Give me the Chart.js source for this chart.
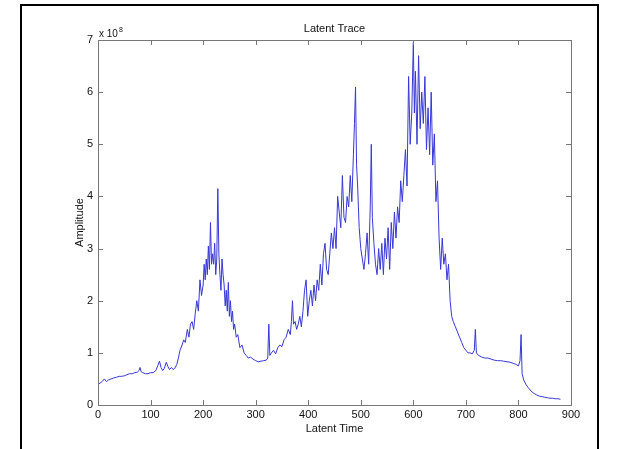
<!DOCTYPE html>
<html><head><meta charset="utf-8">
<script src="https://cdn.jsdelivr.net/npm/chart.js@4"></script>
<style>
html,body{margin:0;padding:0;background:#fff;overflow:hidden}
#wrap{position:relative;width:618px;height:449px}
#frame{position:absolute;left:20px;top:4px;width:579px;height:500px;border:2px solid #000;box-sizing:border-box}
canvas{position:absolute;left:0;top:0}
</style></head><body>
<div id="wrap"><div id="frame"></div><canvas id="c" width="618" height="449"></canvas></div>
<script>
const chartTitle = "Latent Trace";
const xAxisLabel = "Latent Time";
const yAxisLabel = "Amplitude";
const xTicks = [0,100,200,300,400,500,600,700,800,900];
const yTicks = [0,1,2,3,4,5,6,7];
const times = [0,4,8,12,16,20,25,30,35,40,45,50,55,60,65,70,75,78,80,82,85,90,95,100,105,110,114,117,120,123,126,130,133,136,140,143,146,150,153,156,160,163,166,170,173,176,179,182,185,188,191,194,197,200,202,204,206,208,210,212,214,216,218,220,222,224,226,228,230,232,234,236,238,240,242,244,246,248,250,252,254,256,258,260,263,266,270,274,278,282,286,290,295,300,305,310,315,320,323,325,327,330,334,338,342,346,350,354,358,362,366,368,370,372,375,378,381,384,387,390,393,396,399,402,405,408,411,414,417,420,423,426,429,432,435,438,441,444,447,450,453,456,459,462,465,468,471,474,477,480,483,486,488,490,492,494,497,500,503,506,509,512,515,518,520,522,525,528,531,534,537,540,543,546,549,552,555,558,561,564,567,570,573,576,579,582,585,588,591,594,597,600,602,604,607,610,613,616,619,622,625,628,631,634,637,640,643,646,649,652,655,658,661,664,667,670,673,676,680,684,688,692,696,700,704,708,712,716,718,720,724,730,736,742,748,754,760,766,772,778,784,790,795,800,803,805,807,810,814,818,822,826,830,835,840,845,850,855,860,865,870,875,880];
const amplitude = [0.40,0.42,0.45,0.50,0.45,0.48,0.50,0.52,0.53,0.55,0.55,0.56,0.58,0.60,0.60,0.62,0.63,0.66,0.72,0.64,0.62,0.60,0.60,0.62,0.62,0.66,0.76,0.84,0.72,0.66,0.70,0.82,0.74,0.68,0.72,0.68,0.70,0.78,0.90,1.05,1.15,1.25,1.20,1.45,1.30,1.55,1.60,1.45,1.75,2.00,1.80,2.40,2.10,2.30,2.70,2.40,2.80,2.50,3.05,2.60,3.50,2.70,2.90,2.70,3.10,2.50,2.80,4.15,2.90,2.50,2.20,2.80,2.50,2.30,1.90,2.20,1.80,2.35,1.70,2.00,1.60,1.80,1.45,1.55,1.30,1.35,1.10,1.15,1.00,0.95,0.90,0.92,0.88,0.85,0.83,0.84,0.85,0.86,0.90,1.55,0.95,1.00,1.05,0.98,1.10,1.15,1.12,1.25,1.30,1.45,1.35,1.60,2.00,1.55,1.60,1.45,1.55,1.70,1.50,1.80,2.20,2.40,1.70,2.00,2.20,1.90,2.30,2.00,2.40,2.20,2.70,2.30,2.90,3.10,2.60,2.50,2.90,3.30,3.00,3.40,3.00,4.00,3.70,3.40,4.40,3.60,3.50,4.00,3.80,4.40,3.90,4.80,5.40,6.10,4.60,4.20,3.40,3.00,2.80,2.60,2.90,3.30,2.70,3.80,5.00,3.60,3.10,2.70,2.50,3.00,2.60,3.10,2.50,3.20,2.80,3.40,2.60,3.50,3.00,3.70,3.20,3.80,3.50,4.30,3.90,4.40,4.90,4.20,6.30,5.00,5.60,6.95,5.60,6.40,5.00,6.70,5.30,6.00,5.40,6.30,4.90,5.70,4.80,6.00,4.60,5.20,3.90,4.30,3.20,2.60,3.20,2.70,2.90,2.40,2.70,2.00,1.70,1.60,1.50,1.40,1.30,1.20,1.10,1.05,1.00,1.00,0.98,1.05,1.45,1.00,0.95,0.92,0.90,0.90,0.88,0.86,0.85,0.85,0.84,0.83,0.82,0.80,0.78,0.75,0.85,1.35,0.60,0.48,0.40,0.34,0.29,0.25,0.22,0.19,0.17,0.16,0.15,0.14,0.13,0.13,0.12,0.12,0.11];

const points = times.map((t,i)=>({x:t,y:amplitude[i]}));
const FONT = "'Liberation Sans', Arial, sans-serif";

const decor = {
  id:'decor',
  afterDraw(chart){
    const {ctx, chartArea:a, scales:{x,y}} = chart;
    ctx.save();
    ctx.strokeStyle = '#777';
    ctx.lineWidth = 1;
    ctx.strokeRect(Math.round(a.left)+0.5, Math.round(a.top)+0.5, Math.round(a.right-a.left), Math.round(a.bottom-a.top));
    ctx.beginPath();
    xTicks.forEach(v=>{
      const px = Math.round(x.getPixelForValue(v))+0.5;
      ctx.moveTo(px,a.bottom); ctx.lineTo(px,a.bottom-5);
      ctx.moveTo(px,a.top); ctx.lineTo(px,a.top+5);
    });
    yTicks.forEach(v=>{
      const py = Math.round(y.getPixelForValue(v))+0.5;
      ctx.moveTo(a.left,py); ctx.lineTo(a.left+5,py);
      ctx.moveTo(a.right,py); ctx.lineTo(a.right-5,py);
    });
    ctx.stroke();
    ctx.fillStyle = '#111';
    ctx.textAlign = 'center';
    ctx.textBaseline = 'middle';
    ctx.font = '11px ' + FONT;
    ctx.fillText(chartTitle, (a.left+a.right)/2, 29);
    ctx.textAlign = 'left';
    ctx.font = '10px ' + FONT;
    ctx.fillText('x 10', a.left+1, 34);
    ctx.font = '7px ' + FONT;
    ctx.fillText('8', a.left+21, 30);
    ctx.restore();
  }
};

new Chart(document.getElementById('c'), {
  type:'scatter',
  data:{datasets:[{data:points, showLine:true, borderColor:'rgb(55,55,215)', borderWidth:1, pointRadius:0, tension:0}]},
  options:{
    responsive:false, animation:false,
    layout:{padding:{left:64,top:40,right:47,bottom:13}},
    plugins:{legend:{display:false}, tooltip:{enabled:false}},
    scales:{
      x:{type:'linear', min:0, max:900,
        afterBuildTicks(s){ s.ticks = xTicks.map(v=>({value:v})); },
        afterFit(s){ s.height = 31; },
        grid:{display:false, drawTicks:false}, border:{display:false},
        ticks:{padding:3, maxRotation:0, color:'#111', font:{family:FONT,size:11}, callback:v=>String(v)},
        title:{display:true, text:xAxisLabel, color:'#111', font:{family:FONT,size:11}, padding:{top:0,bottom:0}}
      },
      y:{type:'linear', min:0, max:7,
        afterBuildTicks(s){ s.ticks = yTicks.map(v=>({value:v})); },
        afterFit(s){ s.width = 34; },
        grid:{display:false, drawTicks:false}, border:{display:false},
        ticks:{padding:5, color:'#111', font:{family:FONT,size:11}, callback:v=>String(v)},
        title:{display:true, text:yAxisLabel, color:'#111', font:{family:FONT,size:11}, padding:{top:9,bottom:0}}
      }
    }
  },
  plugins:[decor]
});
</script>
</body></html>
